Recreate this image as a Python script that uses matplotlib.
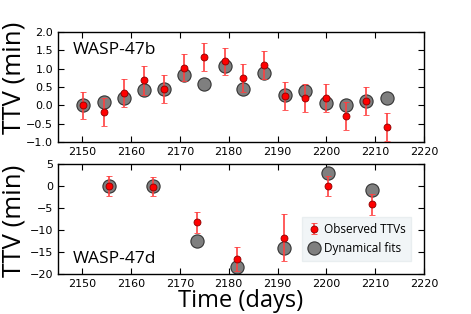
import numpy as np
import matplotlib
matplotlib.use("Agg")
import matplotlib.pyplot as plt

# WASP-47b transits
t_b = [2150.2, 2154.4, 2158.5, 2162.6, 2166.7, 2170.8, 2175.0, 2179.2,
       2183.0, 2187.2, 2191.5, 2195.7, 2199.9, 2204.0, 2208.2, 2212.4]
ttv_b = [0.0, -0.18, 0.34, 0.68, 0.45, 1.03, 1.32, 1.20,
         0.74, 1.09, 0.25, 0.21, 0.21, -0.30, 0.11, -0.59]
err_b = [0.37, 0.39, 0.38, 0.39, 0.38, 0.38, 0.38, 0.37,
         0.39, 0.38, 0.39, 0.38, 0.38, 0.38, 0.38, 0.39]
fit_b = [0.0, 0.10, 0.21, 0.43, 0.44, 0.83, 0.59, 1.08,
         0.45, 0.87, 0.27, 0.40, 0.07, 0.01, 0.12, 0.19]

# WASP-47d transits
t_d = [2155.4, 2164.4, 2173.4, 2181.6, 2191.4, 2200.3, 2209.4]
ttv_d = [0.0, -0.15, -8.25, -16.6, -11.7, 0.0, -4.2]
err_d = [2.2, 2.1, 2.35, 2.65, 5.4, 2.2, 2.4]
fit_d = [0.0, 0.0, -12.6, -18.3, -14.0, 2.9, -0.9]

fig = plt.figure(figsize=(4.71, 3.14), dpi=100)
ax1 = fig.add_axes([0.123, 0.548, 0.777, 0.350])
ax2 = fig.add_axes([0.123, 0.127, 0.777, 0.351])


def panel(ax, t, obs, err, fit):
    ax.plot(t, fit, 'o', ms=9.5, mfc='#7f7f7f', mec='#333333', mew=0.8,
            zorder=2, label='Dynamical fits')
    ax.errorbar(t, obs, yerr=err, fmt='o', ms=5, mfc='red', mec='#8b0000',
                mew=0.6, ecolor='#ff4040', elinewidth=1.2, capsize=2.2,
                capthick=1.0, zorder=3, label='Observed TTVs')
    ax.set_xlim(2145, 2220)
    ax.tick_params(direction='in', top=True, right=True, labelsize=8,
                   length=4, width=0.8)
    for s in ax.spines.values():
        s.set_linewidth(1.0)
    ax.set_ylabel('TTV (min)', family='Open Sans', fontsize=18.5)


panel(ax1, t_b, ttv_b, err_b, fit_b)
ax1.set_ylim(-1.0, 2.0)
ax1.set_yticks(np.arange(-1.0, 2.01, 0.5))
ax1.yaxis.set_label_coords(-0.085, 0.58)
ax1.text(0.04, 0.8, 'WASP-47b', transform=ax1.transAxes,
         family='Open Sans', fontsize=12.5)

panel(ax2, t_d, ttv_d, err_d, fit_d)
ax2.set_ylim(-20, 5)
ax2.set_yticks([5, 0, -5, -10, -15, -20])
ax2.yaxis.set_label_coords(-0.085, 0.48)
ax2.text(0.04, 0.1, 'WASP-47d', transform=ax2.transAxes,
         family='Open Sans', fontsize=12.5)
ax2.set_xlabel('Time (days)', family='Open Sans', fontsize=17, labelpad=0)

h, l = ax2.get_legend_handles_labels()
leg = ax2.legend(h[::-1], l[::-1], loc='lower right',
                 bbox_to_anchor=(0.98, 0.07), prop=dict(family='Open Sans', size=8.5),
                 frameon=True, fancybox=False, handletextpad=0.2,
                 handlelength=1.2, borderpad=0.45, labelspacing=0.55)
leg.get_frame().set_facecolor('#eef3f5')
leg.get_frame().set_edgecolor('#e6ecee')
leg.get_frame().set_alpha(0.8)

fig.savefig('out.png', dpi=100)
